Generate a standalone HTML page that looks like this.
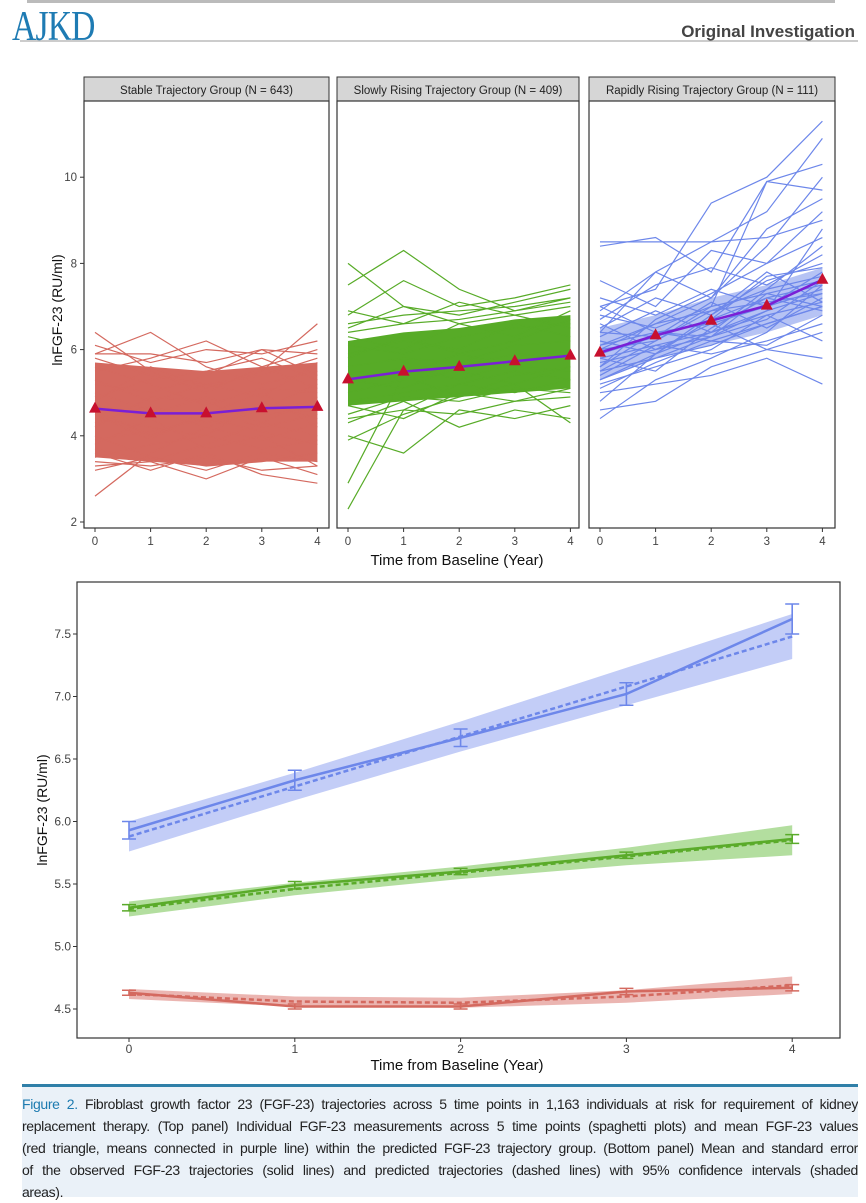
<!DOCTYPE html>
<html><head><meta charset="utf-8">
<style>
body{margin:0;width:866px;height:1200px;background:#fff;font-family:"Liberation Sans",sans-serif;overflow:hidden;position:relative}
#cap{position:absolute;left:22px;top:1084px;width:836px;height:104px;background:#eaf1f8;border-top:3px solid #2f7fa8;padding:6px 0 0 0;font-size:14px;letter-spacing:-0.35px;color:#222;line-height:22px}
#cap div{text-align:justify;text-align-last:justify;white-space:nowrap;overflow:hidden}
#cap div.last{text-align-last:left}
</style></head><body>
<svg id="svg" width="866" height="1200" style="position:absolute;left:0;top:0"></svg>
<div id="cap">
<div><b style="color:#1d7bb0;font-weight:normal">Figure 2.</b> Fibroblast growth factor 23 (FGF-23) trajectories across 5 time points in 1,163 individuals at risk for requirement of kidney</div>
<div>replacement therapy. (Top panel) Individual FGF-23 measurements across 5 time points (spaghetti plots) and mean FGF-23 values</div>
<div>(red triangle, means connected in purple line) within the predicted FGF-23 trajectory group. (Bottom panel) Mean and standard error</div>
<div>of the observed FGF-23 trajectories (solid lines) and predicted trajectories (dashed lines) with 95% confidence intervals (shaded</div>
<div class="last">areas).</div>
</div>
<script>
const years=[0,1,2,3,4];
const groupNames=["Stable Trajectory Group (N = 643)","Slowly Rising Trajectory Group (N = 409)","Rapidly Rising Trajectory Group (N = 111)"];
const topTicks=[2,4,6,8,10];
const botTicks=[4.5,5.0,5.5,6.0,6.5,7.0,7.5];
const redLines=[[6.4,5.5,5.0,5.6,6.0],[5.9,6.4,5.6,5.2,5.5],[5.5,5.8,6.2,5.6,5.1],[5.2,5.0,5.4,6.0,5.4],[4.8,5.6,5.1,5.5,6.6],[2.6,3.6,4.2,3.9,4.3],[3.3,3.4,3.0,3.5,3.1],[3.6,3.2,3.6,3.1,2.9],[4.0,3.5,3.3,3.4,3.6],[3.8,4.4,3.7,4.0,3.3],[4.6,4.0,4.5,5.0,4.2],[5.0,4.6,4.2,4.6,5.2],[4.2,4.9,4.8,4.3,4.9],[4.4,4.2,4.0,4.8,4.4],[5.3,4.8,5.2,4.9,5.7],[3.9,4.1,4.4,4.1,3.8],[4.7,4.5,4.9,4.5,4.6],[5.6,5.2,4.7,5.1,5.0],[3.5,3.8,4.0,3.7,3.9],[4.9,5.3,5.5,5.8,5.3],[3.7,3.4,3.8,4.3,4.0],[4.3,4.7,4.3,4.6,4.8],[5.8,5.4,5.2,5.4,5.8],[4.5,3.9,4.6,4.2,4.5],[6.1,5.7,6.0,5.9,6.2],[3.4,3.3,3.5,3.2,3.3],[5.9,5.9,5.7,6.0,5.9],[3.2,3.5,3.2,3.6,3.4]];
const greenLines=[[8.0,7.0,6.6,6.8,6.5],[7.5,8.3,7.4,6.9,7.2],[6.8,7.6,7.0,7.2,7.5],[2.3,4.6,5.2,5.0,5.3],[2.9,5.4,4.9,5.4,5.6],[4.0,3.6,4.6,4.4,4.7],[4.3,4.8,4.2,4.6,4.4],[3.9,4.5,4.9,5.2,4.3],[5.0,5.3,5.5,5.2,5.6],[5.6,5.8,5.7,6.1,6.2],[6.1,5.9,6.3,6.5,6.6],[5.3,5.1,5.6,5.9,5.8],[6.5,7.0,6.8,7.1,7.4],[4.8,5.0,5.2,5.5,5.3],[5.8,6.3,5.9,6.2,6.7],[4.5,4.9,4.8,5.1,5.0],[6.3,6.0,6.6,6.3,6.9],[5.2,5.6,5.3,5.7,6.0],[5.5,5.4,5.9,5.6,5.5],[6.9,6.6,7.1,6.8,7.0],[4.7,4.4,5.0,4.8,5.1],[5.9,6.2,6.0,6.6,6.3],[6.6,6.8,6.9,7.0,7.2],[4.4,4.6,4.5,4.8,4.9],[6.4,6.6,6.7,6.9,7.1]];
const blueLines=[[8.5,8.5,8.5,8.6,9.0],[8.4,8.6,7.8,9.9,10.3],[7.0,7.4,9.4,10.0,11.3],[6.4,7.8,8.5,9.2,10.9],[6.0,6.6,7.2,8.4,10.0],[5.5,6.2,7.0,9.9,9.7],[7.6,7.0,8.3,8.0,9.2],[4.4,5.3,5.8,6.4,7.5],[4.6,4.8,5.6,6.0,6.4],[5.0,5.2,5.4,5.8,5.2],[5.3,5.8,6.3,6.9,8.8],[6.8,6.5,7.0,7.3,7.6],[6.1,6.4,6.2,6.6,7.0],[5.7,6.0,6.6,7.0,7.4],[6.5,7.2,6.8,7.6,8.0],[5.9,6.3,7.1,6.5,7.2],[7.2,6.8,7.4,7.0,7.8],[5.2,5.6,6.0,6.8,6.2],[6.3,6.9,6.4,7.4,8.4],[5.8,5.5,6.5,7.2,6.9],[6.7,7.5,7.9,7.5,8.2],[5.4,6.1,5.9,6.2,6.6],[6.2,5.9,6.8,7.8,7.1],[7.0,6.4,6.6,6.0,5.8],[5.6,6.7,7.3,8.0,8.6],[6.0,6.2,6.9,7.1,7.3],[6.9,7.8,7.2,8.8,9.5],[5.1,5.7,6.2,6.1,6.8],[6.6,6.0,6.3,7.3,7.0],[4.8,5.9,6.7,7.7,7.9],[5.5,5.8,6.1,6.6,7.0],[6.1,6.6,6.9,7.4,7.7],[5.8,6.1,6.4,6.8,7.1],[5.3,5.9,6.4,6.9,7.3],[6.4,6.3,6.7,7.2,7.5],[5.6,6.4,6.3,6.7,7.6]];
const redBandLow=[3.5,3.4,3.3,3.4,3.4], redBandHigh=[5.7,5.6,5.5,5.6,5.7];
const greenBandLow=[4.7,4.8,4.9,5.0,5.1], greenBandHigh=[6.2,6.4,6.5,6.7,6.8];
const blueBandLow=[5.3,5.8,6.1,6.4,6.8], blueBandHigh=[6.5,6.8,7.2,7.5,7.9];
const redMean=[4.63,4.52,4.52,4.64,4.67];
const greenMean=[5.31,5.49,5.60,5.73,5.86];
const blueMean=[5.93,6.33,6.67,7.02,7.62];
const redSE=[0.02,0.02,0.02,0.025,0.025];
const greenSE=[0.025,0.03,0.025,0.025,0.035];
const blueSE=[0.07,0.08,0.07,0.09,0.12];
const redPred=[4.62,4.56,4.55,4.60,4.69];
const greenPred=[5.30,5.46,5.59,5.72,5.85];
const bluePred=[5.88,6.28,6.68,7.08,7.48];
const redCI=[0.04,0.04,0.04,0.05,0.07];
const greenCI=[0.06,0.05,0.05,0.07,0.12];
const blueCI=[0.12,0.11,0.12,0.15,0.18];

const NS="http://www.w3.org/2000/svg";
const svg=document.getElementById('svg');
function mk(tag,attrs,parent){const e=document.createElementNS(NS,tag);for(const k in attrs)e.setAttribute(k,attrs[k]);(parent||svg).appendChild(e);return e;}
function txt(x,y,s,attrs){const t=mk('text',Object.assign({x:x,y:y,'font-family':'Liberation Sans, sans-serif'},attrs));t.textContent=s;return t;}

let e=mk('rect',{x:27,y:0,width:808,height:3,fill:'#bbb'});

e=mk('line',{x1:20,y1:41,x2:858,y2:41,stroke:'#999','stroke-width':1});

e=txt(0,0,'AJKD',{'font-family':'Liberation Serif, serif','font-size':42,fill:'#1e7bb3','letter-spacing':-1,transform:'translate(12,40) scale(0.8,1)'});

e=txt(855,37,'Original Investigation',{'font-size':17,fill:'#444','text-anchor':'end','font-weight':'bold'});


const panels=[{x0:84,x1:329,lines:redLines,lo:redBandLow,hi:redBandHigh,mean:redMean,col:'#d4695f',op:1},
{x0:337,x1:579,lines:greenLines,lo:greenBandLow,hi:greenBandHigh,mean:greenMean,col:'#57ab27',op:1},
{x0:589,x1:835,lines:blueLines,lo:blueBandLow,hi:blueBandHigh,mean:blueMean,col:'#6d87ea',op:0.5}];
const ty=v=>522-(v-2)*43.1;
panels.forEach((p,i)=>{
  const g=mk('g',{});
  
  const tx=t=>p.x0+11+t*55.6;
  let s=mk('rect',{x:p.x0,y:77,width:p.x1-p.x0,height:24,fill:'#d6d6d6',stroke:'#333','stroke-width':1},g);
  
  s=txt((p.x0+p.x1)/2,94,groupNames[i],{'font-size':11.5,fill:'#222','text-anchor':'middle'});g.appendChild(s);
  
  s=mk('rect',{x:p.x0,y:101,width:p.x1-p.x0,height:427,fill:'#fff',stroke:'#333','stroke-width':1.2},g);
  
  let pts=years.map((t,k)=>tx(t)+','+ty(p.hi[k])).concat(years.slice().reverse().map(t=>tx(t)+','+ty(p.lo[t])));
  s=mk('polygon',{points:pts.join(' '),fill:p.col,opacity:p.op},g);
  
  p.lines.forEach(L=>{
    const l=mk('polyline',{points:years.map((t,k)=>tx(t)+','+ty(L[k])).join(' '),fill:'none',stroke:p.col,'stroke-width':1.2},g);
    
  });
  s=mk('polyline',{points:years.map((t,k)=>tx(t)+','+ty(p.mean[k])).join(' '),fill:'none',stroke:'#7a1fd6','stroke-width':2.5},g);
  
  years.forEach((t,k)=>{
    const x=tx(t),y=ty(p.mean[k]);
    const m=mk('polygon',{points:`${x},${y-7} ${x-6},${y+4} ${x+6},${y+4}`,fill:'#c8102e'},g);
    
    const tk=mk('line',{x1:x,y1:528,x2:x,y2:532,stroke:'#333'},g);
    
    const tl=txt(x,545,String(t),{'font-size':11.5,fill:'#444','text-anchor':'middle'});g.appendChild(tl);
    
  });
});
topTicks.forEach(v=>{
  const y=ty(v);
  let t=mk('line',{x1:80,y1:y,x2:84,y2:y,stroke:'#333'});
  
  t=txt(77,y+4,String(v),{'font-size':11.5,fill:'#444','text-anchor':'end'});
  
});
e=txt(457,565,'Time from Baseline (Year)',{'font-size':15,fill:'#111','text-anchor':'middle'});

e=txt(0,0,'lnFGF-23 (RU/ml)',{'font-size':14,fill:'#111','text-anchor':'middle',transform:'translate(62,310) rotate(-90)'});


const bx=t=>129+t*165.8;
const by=v=>1009-(v-4.5)*125;
e=mk('rect',{x:77,y:582,width:763,height:456,fill:'#fff',stroke:'#333','stroke-width':1.2});

const series=[{mean:redMean,se:redSE,pred:redPred,ci:redCI,col:'#d4695f',band:'#e8a8a3',n:'stable'},
{mean:greenMean,se:greenSE,pred:greenPred,ci:greenCI,col:'#5aab2a',band:'#a6d88e',n:'slowly-rising'},
{mean:blueMean,se:blueSE,pred:bluePred,ci:blueCI,col:'#6d87ea',band:'#b8c4f6',n:'rapidly-rising'}];
series.forEach(s=>{
  const pts=years.map((t,k)=>bx(t)+','+by(s.pred[k]+s.ci[k])).concat(years.slice().reverse().map(t=>bx(t)+','+by(s.pred[t]-s.ci[t])));
  let b=mk('polygon',{points:pts.join(' '),fill:s.band,opacity:0.85});
  
  b=mk('polyline',{points:years.map((t,k)=>bx(t)+','+by(s.pred[k])).join(' '),fill:'none',stroke:s.col,'stroke-width':2.5,'stroke-dasharray':'5,3'});
  
  b=mk('polyline',{points:years.map((t,k)=>bx(t)+','+by(s.mean[k])).join(' '),fill:'none',stroke:s.col,'stroke-width':2.5});
  
  years.forEach((t,k)=>{
    const x=bx(t),y1=by(s.mean[k]+s.se[k]),y2=by(s.mean[k]-s.se[k]);
    const eb=mk('path',{d:`M${x-7},${y1}H${x+7}M${x},${y1}V${y2}M${x-7},${y2}H${x+7}`,stroke:s.col,'stroke-width':1.6,fill:'none'});
    
  });
});
years.forEach(t=>{
  let a=mk('line',{x1:bx(t),y1:1038,x2:bx(t),y2:1042,stroke:'#333'});
  
  a=txt(bx(t),1053,String(t),{'font-size':12,fill:'#444','text-anchor':'middle'});
  
});
botTicks.forEach(v=>{
  let a=mk('line',{x1:73,y1:by(v),x2:77,y2:by(v),stroke:'#333'});
  
  a=txt(71,by(v)+4,v.toFixed(1),{'font-size':12,fill:'#444','text-anchor':'end'});
  
});
e=txt(457,1070,'Time from Baseline (Year)',{'font-size':15,fill:'#111','text-anchor':'middle'});

e=txt(0,0,'lnFGF-23 (RU/ml)',{'font-size':14,fill:'#111','text-anchor':'middle',transform:'translate(47,810) rotate(-90)'});

</script>
</body></html>
